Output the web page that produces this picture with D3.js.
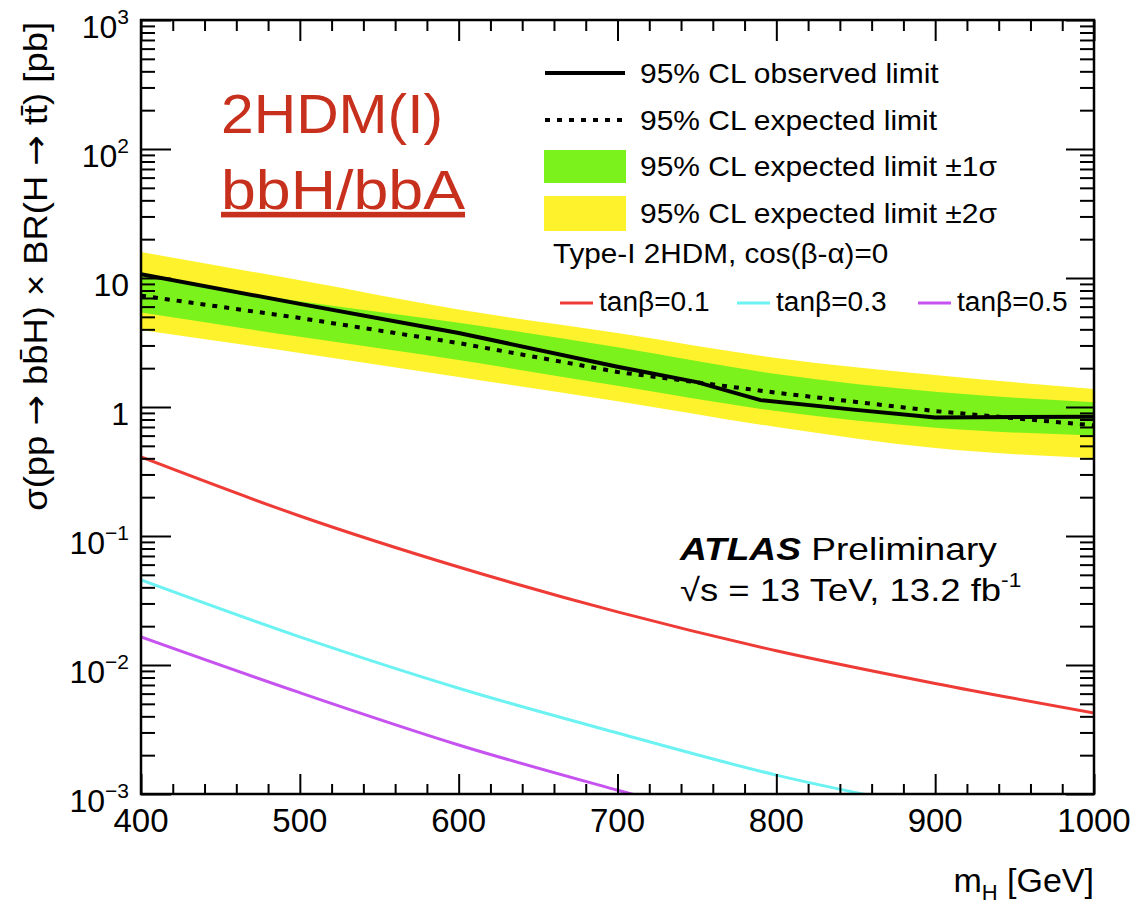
<!DOCTYPE html>
<html>
<head>
<meta charset="utf-8">
<script src="https://cdn.jsdelivr.net/npm/d3@7"></script>
<style>
  html, body { margin: 0; padding: 0; background: #ffffff; }
  svg { display: block; }
  text { font-family: "Liberation Sans", Arial, Helvetica, sans-serif; fill: #000; }
</style>
</head>
<body>
<svg id="chart" width="1137" height="904"></svg>
<script>
// ---- limit data (cross section x BR in pb vs. m_H in GeV) ----
const massLimit      = [400, 500, 600, 700, 800, 900, 1000];
const expectedLimit  = [7.3, 4.9, 3.13, 1.87, 1.29, 0.93, 0.72];
const band1Up        = [10.4, 6.6, 4.5, 2.9, 1.8, 1.31, 1.09];
const band1Down      = [5.4, 3.5, 2.31, 1.46, 0.93, 0.69, 0.60];
const band2Up        = [15.9, 9.6, 5.7, 3.75, 2.4, 1.77, 1.38];
const band2Down      = [3.96, 2.62, 1.71, 1.11, 0.70, 0.48, 0.40];

const massObserved   = [400, 500, 600, 700, 750, 790, 850, 900, 1000];
const observedLimit  = [10.7, 6.3, 3.75, 2.05, 1.56, 1.13, 0.95, 0.83, 0.84];

// ---- Type-I 2HDM predictions, cos(beta-alpha)=0 ----
const massModel  = [400, 500, 600, 700, 800, 900, 1000];
const xsTanB01   = [0.41, 0.143, 0.0575, 0.0258, 0.0129, 0.0072, 0.00425];
const xsTanB03   = [0.0456, 0.0165, 0.0066, 0.00297, 0.00140, 0.00077, 0.00045];
const xsTanB05   = [0.0165, 0.0061, 0.0024, 0.00107, 0.0005, 0.00024, 0.00012];

// ---- axis ticks ----
const xTickValues = [400, 500, 600, 700, 800, 900, 1000];
const yDecades    = [-3, -2, -1, 0, 1, 2, 3];
const yTickLabels = [["10", "\u22123"], ["10", "\u22122"], ["10", "\u22121"], ["1", ""], ["10", ""], ["10", "2"], ["10", "3"]];

const legendEntries = [
  "95% CL observed limit",
  "95% CL expected limit",
  "95% CL expected limit \u00b11\u03c3",
  "95% CL expected limit \u00b12\u03c3"
];
const modelLabels = ["tan\u03b2=0.1", "tan\u03b2=0.3", "tan\u03b2=0.5"];

// ---- layout ----
const frame = { left: 141, right: 1094, top: 20, bottom: 794 };
const colors = {
  green: "#7bf21c", yellow: "#fef22c",
  red: "#ee3b36", cyan: "#6cf2f2", purple: "#c653f0",
  title: "#c8301e"
};

const svg = d3.select("#chart");

const x = d3.scaleLinear().domain([400, 1000]).range([frame.left, frame.right]);
const y = d3.scaleLog().domain([1e-3, 1e3]).range([frame.bottom, frame.top]);

// text placed at (px,py), widened horizontally by sx
function stretchedText(parent, px, py, size, sx) {
  return parent.append("text")
    .attr("transform", `translate(${px},${py}) scale(${sx},1)`)
    .attr("font-size", size);
}

svg.append("defs").append("clipPath").attr("id", "plotClip")
  .append("rect")
  .attr("x", frame.left).attr("y", frame.top)
  .attr("width", frame.right - frame.left).attr("height", frame.bottom - frame.top);

const plot = svg.append("g").attr("clip-path", "url(#plotClip)");

// ---- bands ----
function band(up, down) {
  return d3.area()
    .x((d, i) => x(massLimit[i]))
    .y0((d, i) => y(down[i]))
    .y1((d, i) => y(up[i]))
    .curve(d3.curveMonotoneX)(massLimit);
}
plot.append("path").attr("d", band(band2Up, band2Down)).attr("fill", colors.yellow);
plot.append("path").attr("d", band(band1Up, band1Down)).attr("fill", colors.green);

// ---- expected and observed ----
const lineXY = (xs, ys, curve) => d3.line()
  .x((d, i) => x(xs[i])).y((d, i) => y(ys[i]))
  .curve(curve || d3.curveLinear)(xs);

plot.append("path").attr("d", lineXY(massLimit, expectedLimit))
  .attr("fill", "none").attr("stroke", "#000").attr("stroke-width", 4)
  .attr("stroke-dasharray", "5,7");
plot.append("path").attr("d", lineXY(massObserved, observedLimit))
  .attr("fill", "none").attr("stroke", "#000").attr("stroke-width", 4);

// ---- model curves ----
[[xsTanB01, colors.red], [xsTanB03, colors.cyan], [xsTanB05, colors.purple]].forEach(([vals, c]) => {
  plot.append("path").attr("d", lineXY(massModel, vals, d3.curveMonotoneX))
    .attr("fill", "none").attr("stroke", c).attr("stroke-width", 3);
});

// ---- axes: ticks on all four sides, drawn inward ----
const yMinor = [];
for (let e = -3; e < 3; e++) for (let m = 2; m <= 9; m++) yMinor.push(m * Math.pow(10, e));
const yMajor = yDecades.map(e => Math.pow(10, e));
const xMinor = d3.range(400, 1001, 20).filter(v => v % 100 !== 0);

function styleAxis(g) {
  g.select(".domain").remove();
  g.selectAll(".tick line").attr("stroke", "#000").attr("stroke-width", 2);
  g.selectAll(".tick text").remove();
}

svg.append("g").attr("transform", `translate(${frame.left},0)`)
  .call(d3.axisLeft(y).tickValues(yMinor).tickSize(-14).tickSizeOuter(0)).call(styleAxis);
svg.append("g").attr("transform", `translate(${frame.left},0)`)
  .call(d3.axisLeft(y).tickValues(yMajor).tickSize(-30).tickSizeOuter(0)).call(styleAxis);
svg.append("g").attr("transform", `translate(${frame.right},0)`)
  .call(d3.axisRight(y).tickValues(yMinor).tickSize(-14).tickSizeOuter(0)).call(styleAxis);
svg.append("g").attr("transform", `translate(${frame.right},0)`)
  .call(d3.axisRight(y).tickValues(yMajor).tickSize(-28).tickSizeOuter(0)).call(styleAxis);

svg.append("g").attr("transform", `translate(0,${frame.bottom})`)
  .call(d3.axisBottom(x).tickValues(xMinor).tickSize(-10).tickSizeOuter(0)).call(styleAxis);
svg.append("g").attr("transform", `translate(0,${frame.bottom})`)
  .call(d3.axisBottom(x).tickValues(xTickValues).tickSize(-20).tickSizeOuter(0)).call(styleAxis);
svg.append("g").attr("transform", `translate(0,${frame.top})`)
  .call(d3.axisTop(x).tickValues(xMinor).tickSize(-11).tickSizeOuter(0)).call(styleAxis);
svg.append("g").attr("transform", `translate(0,${frame.top})`)
  .call(d3.axisTop(x).tickValues(xTickValues).tickSize(-21).tickSizeOuter(0)).call(styleAxis);

svg.append("rect")
  .attr("x", frame.left).attr("y", frame.top)
  .attr("width", frame.right - frame.left).attr("height", frame.bottom - frame.top)
  .attr("fill", "none").attr("stroke", "#000").attr("stroke-width", 2.5);

// ---- tick labels ----
svg.append("g").selectAll("text").data(xTickValues).join("text")
  .attr("x", d => x(d)).attr("y", frame.bottom + 38)
  .attr("text-anchor", "middle").attr("font-size", 33)
  .text(d => d);

const yLab = svg.append("g").selectAll("text").data(yDecades).join("text")
  .attr("x", 129).attr("y", d => y(Math.pow(10, d)) + 18)
  .attr("text-anchor", "end").attr("font-size", 32);
yLab.append("tspan").text((d, i) => yTickLabels[i][0]);
yLab.append("tspan").attr("font-size", 21).attr("dy", -14)
  .text((d, i) => yTickLabels[i][1]);

// ---- axis titles ----
const xt = svg.append("text").attr("x", frame.right).attr("y", 892)
  .attr("text-anchor", "end").attr("font-size", 34);
xt.append("tspan").text("m");
xt.append("tspan").attr("font-size", 22).attr("dy", 8).text("H");
xt.append("tspan").attr("dy", -8).text(" [GeV]");

const yt = svg.append("text")
  .attr("transform", "translate(47,22) rotate(-90) scale(1.07,1)")
  .attr("text-anchor", "end").attr("font-size", 34);
const arrow = "\u2192";
yt.append("tspan").text("\u03c3(pp ");
yt.append("tspan").attr("font-family", "DejaVu Sans").text(arrow);
yt.append("tspan").text(" bb\u0304H) \u00d7 BR(H ");
yt.append("tspan").attr("font-family", "DejaVu Sans").text(arrow);
yt.append("tspan").text(" tt\u0304) [pb]");

// ---- legend ----
const legendRowsY = [73, 120, 166, 213];
const lg = svg.append("g");
lg.append("line").attr("x1", 545).attr("x2", 625).attr("y1", legendRowsY[0]).attr("y2", legendRowsY[0])
  .attr("stroke", "#000").attr("stroke-width", 4);
lg.append("line").attr("x1", 545).attr("x2", 625).attr("y1", legendRowsY[1]).attr("y2", legendRowsY[1])
  .attr("stroke", "#000").attr("stroke-width", 4).attr("stroke-dasharray", "5,7");
lg.append("rect").attr("x", 544).attr("y", 150).attr("width", 82).attr("height", 33).attr("fill", colors.green);
lg.append("rect").attr("x", 544).attr("y", 196).attr("width", 82).attr("height", 35).attr("fill", colors.yellow);
legendEntries.forEach((lab, i) => {
  stretchedText(lg, 640, legendRowsY[i] + 10, 27, 1.11).text(lab);
});

stretchedText(lg, 553, 263, 27, 1.1).text("Type-I 2HDM, cos(\u03b2-\u03b1)=0");

const modelLegendX = [560, 737, 918];
const modelColors = [colors.red, colors.cyan, colors.purple];
modelLabels.forEach((lab, i) => {
  lg.append("line").attr("x1", modelLegendX[i]).attr("x2", modelLegendX[i] + 33)
    .attr("y1", 303).attr("y2", 303).attr("stroke", modelColors[i]).attr("stroke-width", 3);
  stretchedText(lg, modelLegendX[i] + 39, 311, 27, 1.04).text(lab);
});

// ---- experiment label ----
const atlas = stretchedText(svg, 680, 560, 32, 1.16);
atlas.append("tspan").attr("font-weight", "bold").attr("font-style", "italic").text("ATLAS");
atlas.append("tspan").text(" Preliminary");
const lumi = stretchedText(svg, 680, 601, 32, 1.14);
lumi.append("tspan").text("\u221as = 13 TeV, 13.2 fb");
lumi.append("tspan").attr("font-size", 20).attr("dy", -14).text("-1");

// ---- model tag ----
stretchedText(svg, 221, 133, 56, 1.05)
  .attr("font-family", "Lato, 'Open Sans', sans-serif")
  .style("fill", colors.title).text("2HDM(I)");
stretchedText(svg, 221, 209, 56, 1.12)
  .attr("font-family", "Lato, 'Open Sans', sans-serif")
  .attr("text-decoration", "underline")
  .style("fill", colors.title).text("bbH/bbA");
</script>
</body>
</html>
